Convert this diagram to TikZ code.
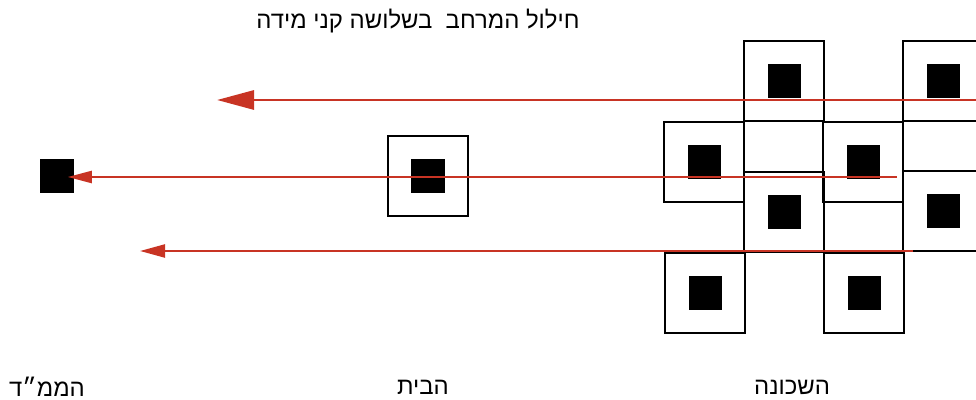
\documentclass[tikz,border=0pt]{standalone}
\usepackage{fontspec}
\setmainfont{Liberation Sans}
\newfontfamily\hebfont[Script=Hebrew]{Liberation Sans}
\TeXXeTstate=1
\usepackage{xcolor}
\usetikzlibrary{arrows.meta}
\definecolor{ray}{RGB}{200,52,36}

\begin{document}
\begin{tikzpicture}[x=0.025cm, y=-0.025cm]
        \tikzset{cell/.style={draw, line width=1.1pt, minimum size=2cm, inner sep=0pt},
                 core/.style={fill=black, minimum size=0.825cm, inner sep=0pt},
                 lbl/.style={font=\hebfont\fontsize{17}{20}\selectfont, inner sep=0pt}};
        \clip (0,0) rectangle (976,400);
        % the neighbourhood
        \foreach \cx/\cy [count=\i] in {784/81, 943/81, 704/162, 863/162, 784/212, 943/211, 705/293, 864/293} {
            \node [cell] (n\i) at (\cx, \cy) {};
            \node [core] (c\i) at (\cx, \cy) {};
        }
        % the house and the safe room
        \node [cell] (house) at (428, 176) {};
        \node [core] (hcore) at (428, 176) {};
        \node [core] (mamad) at (57, 176) {};
        % rays
        \coordinate (s1) at (976, 100);
        \coordinate (e1) at (217, 100);
        \coordinate (s2) at (897, 177);
        \coordinate (s3) at (913, 251);
        \coordinate (e3) at (140, 251);
        \draw [ray, line width=2.1pt, -{Triangle[length=0.925cm, width=0.475cm]}] (s1) -- (e1);
        \draw [ray, line width=1.6pt, shorten >=-0.15cm, -{Triangle[length=0.6cm, width=0.3cm]}] (s2) -- (mamad.east |- s2);
        \draw [ray, line width=1.6pt, -{Triangle[length=0.625cm, width=0.325cm]}] (s3) -- (e3);
        % texts
        \node [lbl] (title) at (418, 21) {\beginR חילול המרחב\ \ בשלושה קני מידה\endR};
        \node [lbl] (lmamad) at (47, 387) {\beginR הממ״ד\endR};
        \node [lbl] (lhouse) at (423, 387) {\beginR הבית\endR};
        \node [lbl] (lhood) at (792, 387) {\beginR השכונה\endR};
\end{tikzpicture}
\end{document}
